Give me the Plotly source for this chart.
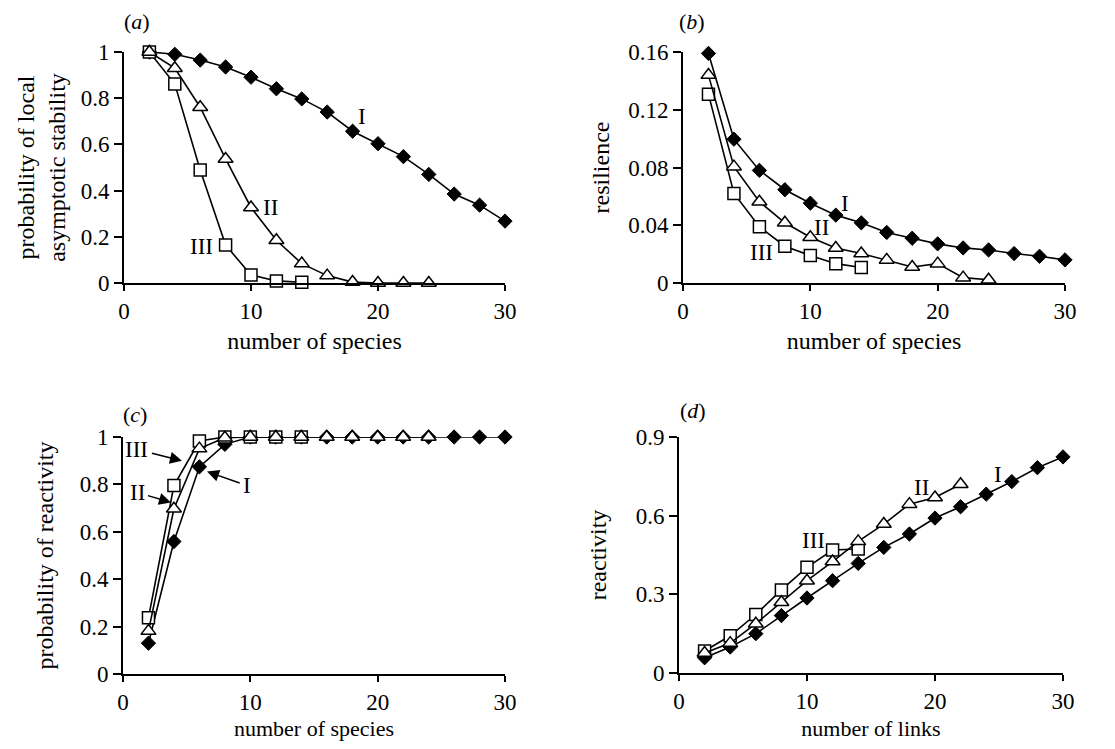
import plotly.graph_objects as go
from plotly.subplots import make_subplots

# x values (number of species / links)
x_I = [2, 4, 6, 8, 10, 12, 14, 16, 18, 20, 22, 24, 26, 28, 30]
x_II = [2, 4, 6, 8, 10, 12, 14, 16, 18, 20, 22, 24]
x_III = [2, 4, 6, 8, 10, 12, 14]
x_II_d = [2, 4, 6, 8, 10, 12, 14, 16, 18, 20, 22]

# (a) probability of local asymptotic stability
stab_I = [1.0, 0.99, 0.965, 0.935, 0.891, 0.841, 0.797, 0.74, 0.657, 0.603, 0.547, 0.47, 0.385, 0.337, 0.268]
stab_II = [1.0, 0.93, 0.761, 0.537, 0.327, 0.185, 0.084, 0.032, 0.004, 0.0, 0.0, 0.0]
stab_III = [1.0, 0.861, 0.489, 0.164, 0.035, 0.009, 0.003]

# (b) resilience
res_I = [0.159, 0.0996, 0.078, 0.0646, 0.0553, 0.047, 0.0417, 0.035, 0.031, 0.0271, 0.0243, 0.0229, 0.0204, 0.0185, 0.016]
res_II = [0.144, 0.0806, 0.0563, 0.0417, 0.0317, 0.0243, 0.0204, 0.016, 0.0111, 0.0134, 0.0037, 0.0023]
res_III = [0.1308, 0.062, 0.039, 0.0255, 0.019, 0.0134, 0.0107]

# (c) probability of reactivity
preact_I = [0.13, 0.559, 0.874, 0.969, 1, 1, 1, 1, 1, 1, 1, 1, 1, 1, 1]
preact_II = [0.181, 0.697, 0.951, 0.997, 1, 1, 1, 1, 1, 1, 1, 1]
preact_III = [0.237, 0.795, 0.983, 1, 1, 1, 1]

# (d) reactivity vs number of links
react_I = [0.058, 0.099, 0.15, 0.219, 0.286, 0.352, 0.418, 0.479, 0.53, 0.591, 0.634, 0.682, 0.73, 0.783, 0.824]
react_II = [0.076, 0.114, 0.188, 0.27, 0.352, 0.425, 0.502, 0.568, 0.644, 0.669, 0.72]
react_III = [0.084, 0.142, 0.223, 0.317, 0.403, 0.469, 0.473]

FONT = "Liberation Serif"
FS = 23      # tick labels and curve labels
FT = 24      # axis titles
# page body has an 8px margin, so size the figure to the visible area
OFF = 8
W, H = 1115 - 2*OFF, 749 - 2*OFF

def dx(a, b):
    return [(a-OFF)/W, (b-OFF)/W]

def dy(top, bottom):
    return [1-(bottom-OFF)/H, 1-(top-OFF)/H]

mk_I = dict(symbol="diamond", size=11, color="black", line=dict(color="black", width=1))
mk_II = dict(symbol="triangle-up", size=13, color="white", line=dict(color="black", width=1.5))
mk_III = dict(symbol="square", size=12, color="white", line=dict(color="black", width=1.5))

fig = make_subplots(rows=2, cols=2)

panels = [
    (1, 1, (x_I, stab_I), (x_II, stab_II), (x_III, stab_III)),
    (1, 2, (x_I, res_I), (x_II, res_II), (x_III, res_III)),
    (2, 1, (x_I, preact_I), (x_II, preact_II), (x_III, preact_III)),
    (2, 2, (x_I, react_I), (x_II_d, react_II), (x_III, react_III)),
]
for r, c, sI, sII, sIII in panels:
    # draw order: I, III, II (triangles sit on top)
    for (xs, ys), mk in [(sI, mk_I), (sIII, mk_III), (sII, mk_II)]:
        fig.add_trace(go.Scatter(x=xs, y=ys, mode="lines+markers", marker=mk,
                                 line=dict(color="black", width=1.6),
                                 cliponaxis=False, showlegend=False), r, c)

ax_common = dict(showline=True, linecolor="black", linewidth=2, ticks="outside",
                 tickcolor="black", tickwidth=2, showgrid=False, zeroline=False,
                 automargin=False,
                 tickfont=dict(family=FONT, size=FS, color="black"),
                 title_font=dict(family=FONT, size=FT, color="black"))

fig.update_xaxes(**ax_common, range=[0, 30], tickvals=[0, 10, 20, 30], ticklen=6)
fig.update_yaxes(**ax_common, ticklen=8)

bottom_title = dict(family=FONT, size=22, color="black")

fig.update_layout(
    xaxis=dict(domain=dx(124, 505), title=dict(text="number of species", standoff=10)),
    xaxis2=dict(domain=dx(683, 1065), title=dict(text="number of species", standoff=10)),
    xaxis3=dict(domain=dx(123, 505), title=dict(text="number of species", standoff=8, font=bottom_title)),
    xaxis4=dict(domain=dx(679, 1063), title=dict(text="number of links", standoff=8, font=bottom_title)),
    yaxis=dict(domain=dy(52, 283), range=[0, 1], tickvals=[0, 0.2, 0.4, 0.6, 0.8, 1],
               ticktext=["0", "0.2", "0.4", "0.6", "0.8", "1"],
               title=dict(text="probability of local<br>asymptotic stability", standoff=8)),
    yaxis2=dict(domain=dy(52, 283), range=[0, 0.16], tickvals=[0, 0.04, 0.08, 0.12, 0.16],
                ticktext=["0", "0.04", "0.08", "0.12", "0.16"],
                title=dict(text="resilience", standoff=12)),
    yaxis3=dict(domain=dy(437, 674), range=[0, 1], tickvals=[0, 0.2, 0.4, 0.6, 0.8, 1],
                ticktext=["0", "0.2", "0.4", "0.6", "0.8", "1"],
                title=dict(text="probability of reactivity", standoff=19)),
    yaxis4=dict(domain=dy(437, 673), range=[0, 0.9], tickvals=[0, 0.3, 0.6, 0.9],
                ticktext=["0", "0.3", "0.6", "0.9"],
                title=dict(text="reactivity", standoff=22)),
    width=W, height=H,
    margin=dict(l=0, r=0, t=0, b=0, autoexpand=False),
    plot_bgcolor="white", paper_bgcolor="white",
    font=dict(family=FONT, size=FS, color="black"),
)

# panel letters
for txt, px, py in [("a", 137, 22), ("b", 692, 22), ("c", 135, 414), ("d", 693, 410)]:
    fig.add_annotation(text="(<i>%s</i>)" % txt, xref="paper", yref="paper",
                       x=(px-OFF)/W, y=1-(py-OFF)/H, xanchor="center", yanchor="middle",
                       showarrow=False, font=dict(family=FONT, size=22, color="black"))

# curve labels
labels = [
    ("x", "y", "I", 18.74, 0.719), ("x", "y", "II", 11.5, 0.329), ("x", "y", "III", 6.14, 0.156),
    ("x2", "y2", "I", 12.72, 0.0554), ("x2", "y2", "II", 10.9, 0.0381), ("x2", "y2", "III", 6.2, 0.0208),
    ("x4", "y4", "II", 18.98, 0.706), ("x4", "y4", "I", 24.92, 0.756), ("x4", "y4", "III", 10.47, 0.505),
]
for xr, yr, t, x, y in labels:
    fig.add_annotation(text=t, xref=xr, yref=yr, x=x, y=y, showarrow=False,
                       xanchor="center", yanchor="middle",
                       font=dict(family=FONT, size=FS, color="black"))

# arrowed labels in (c)
for t, x, y, ax, ay in [("III", 4.63, 0.90, -45, -11), ("II", 3.77, 0.724, -34, -10), ("I", 6.6, 0.854, 40, 14)]:
    fig.add_annotation(text=t, xref="x3", yref="y3", x=x, y=y, ax=ax, ay=ay,
                       showarrow=True, arrowhead=2, arrowsize=1.6, arrowwidth=1.5,
                       arrowcolor="black", standoff=0, startstandoff=2,
                       font=dict(family=FONT, size=FS, color="black"))

fig.write_html("out.html")
